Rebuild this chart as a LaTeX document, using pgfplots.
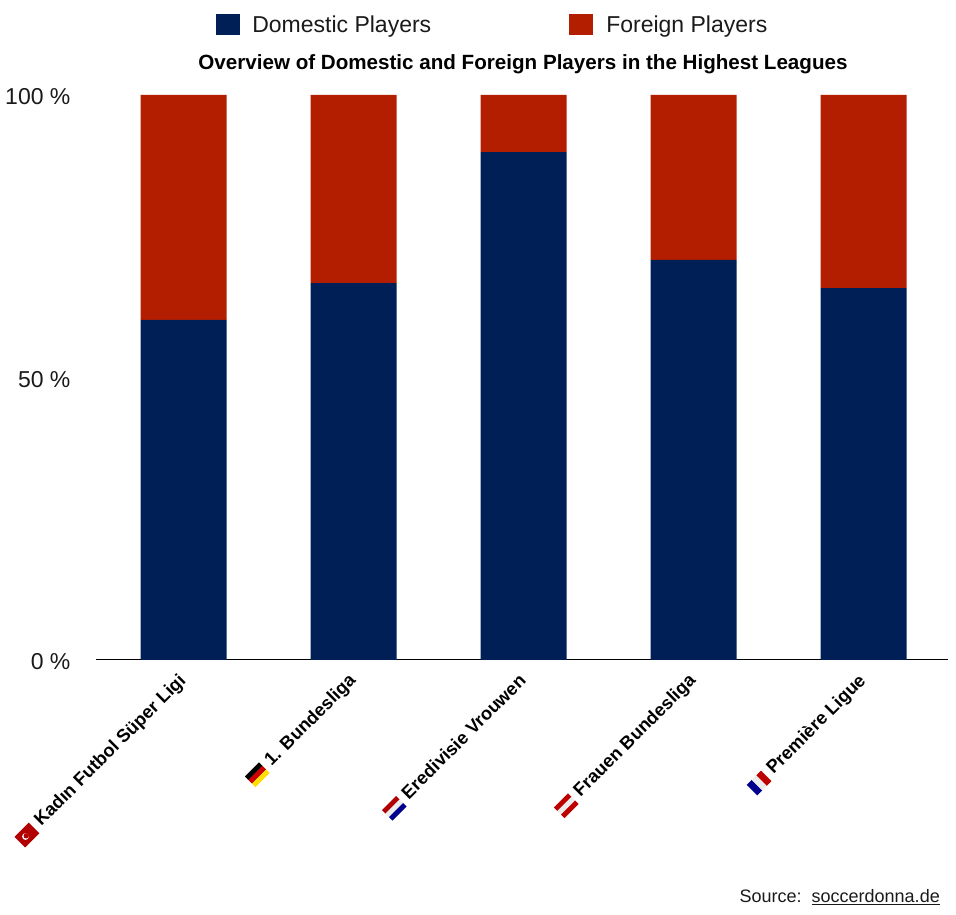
\documentclass[border=0pt]{standalone}
\usepackage{pgfplots}
\pgfplotsset{compat=1.18}
\usepackage{fontspec}
\setmainfont{Liberation Sans}
\definecolor{navy}{HTML}{001F56}
\definecolor{brick}{HTML}{B41E00}
\definecolor{ink}{HTML}{1A1A1A}
\newcommand{\flagthree}[3]{\tikz[baseline=-7pt,x=1pt,y=1pt]{\fill[#1] (0,0) rectangle (20,5);\fill[#2] (0,-5) rectangle (20,0);\fill[#3] (0,-10) rectangle (20,-5);}}
\newcommand{\flagfr}{\tikz[baseline=-7pt,x=1pt,y=1pt]{\fill[blue!55!black] (0,-10) rectangle (7,5);\fill[gray!15] (7,-10) rectangle (13.5,5);\fill[red!75!black] (13.5,-10) rectangle (20,5);}}
\newcommand{\flagtr}{\tikz[baseline=-7pt,x=1pt,y=1pt]{\fill[red!70!black] (0,-10) rectangle (20,5);\fill[white] (8,-2.5) circle (3.4);\fill[red!70!black] (9,-2.5) circle (2.7);}}
\begin{document}
\begin{tikzpicture}
\useasboundingbox (-96pt,-255pt) rectangle (860pt,660pt);
\begin{axis}[
  at={(0pt,0pt)}, anchor=south west,
  scale only axis, width=852pt, height=565pt,
  clip=false,
  ybar stacked, bar width=86pt,
  xmin=-0.515, xmax=4.497, ymin=0, ymax=100,
  axis lines=left,
  axis line style={-},
  y axis line style={draw=none},
  x axis line style={black,line width=1pt},
  major tick length=0pt,
  xtick={0,1,2,3,4},
  xticklabels={
    \flagtr\rule{1pt}{0pt} Kadın Futbol Süper Ligi,
    \flagthree{black}{red!80!black}{yellow!80!orange}\rule{1pt}{0pt} 1. Bundesliga,
    \flagthree{red!70!black}{gray!15}{blue!55!black}\rule{1pt}{0pt} Eredivisie Vrouwen,
    \flagthree{red!75!black}{gray!15}{red!75!black}\rule{1pt}{0pt} Frauen Bundesliga,
    \flagfr\rule{1pt}{0pt} Première Ligue},
  xticklabel style={rotate=45, anchor=east, font=\fontsize{18.2}{20}\selectfont\bfseries, xshift=-9.7pt, yshift=-12.9pt},
  ytick={0,50,100},
  yticklabels={0 \%,50 \%,100 \%},
  yticklabel style={font=\fontsize{23}{26}\selectfont, text=ink, xshift=-22pt, yshift=-2pt},
  title={\fontsize{20.6}{24}\selectfont\bfseries Overview of Domestic and Foreign Players in the Highest Leagues},
  title style={at={(0.5,1)}, anchor=south, yshift=12pt, xshift=1pt},
  legend columns=2,
  legend style={draw=none, fill=none, at={(0.141,1.104)}, anchor=south west, inner sep=0pt,
    font=\fontsize{23}{26}\selectfont, text=ink,
    /tikz/every even column/.append style={column sep=0pt}},
  legend cell align=left,
  area legend,
  legend image code/.code={\fill[#1] (0pt,-10.5pt) rectangle (24pt,10.5pt);},
]
\addplot[fill=navy, draw=none] coordinates {(0,60.2) (1,66.7) (2,89.9) (3,70.8) (4,65.8)};
\addplot[fill=brick, draw=none] coordinates {(0,39.8) (1,33.3) (2,10.1) (3,29.2) (4,34.2)};
\addlegendentry{\rule{10pt}{0pt}Domestic Players\rule{136pt}{0pt}}
\addlegendentry{\rule{11pt}{0pt}Foreign Players}
\end{axis}
\node[anchor=east, font=\fontsize{18}{20}\selectfont, text=ink, inner sep=0pt] at (844pt,-237pt) {Source:\ \ \underline{soccerdonna.de}};
\end{tikzpicture}
\end{document}
